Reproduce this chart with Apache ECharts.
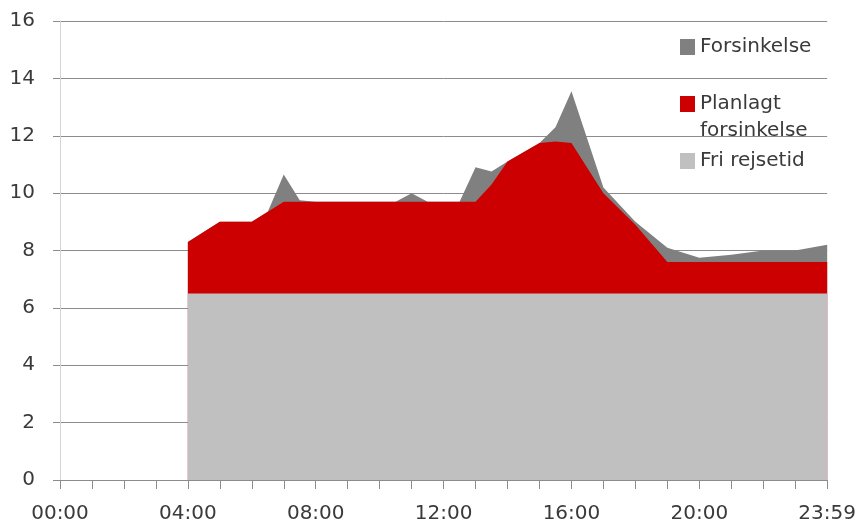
<!DOCTYPE html>
<html>
<head>
<meta charset="utf-8">
<script src="https://cdn.jsdelivr.net/npm/echarts@6/dist/echarts.min.js"></script>
<style>html,body{margin:0;padding:0;background:#fff}#c{width:859px;height:525px}</style>
</head>
<body>
<div id="c"></div>
<script>
// Hours of day (x values)
const hours = [4, 5, 6, 6.5, 7, 7.5, 8, 9, 10, 10.5, 11, 11.5, 12, 12.5, 13, 13.5, 14, 15, 15.5, 16, 17, 18, 19, 20, 21, 22, 23, 24];
// Fri rejsetid (free travel time, bottom band)
const friRejsetid = [6.5, 6.5, 6.5, 6.5, 6.5, 6.5, 6.5, 6.5, 6.5, 6.5, 6.5, 6.5, 6.5, 6.5, 6.5, 6.5, 6.5, 6.5, 6.5, 6.5, 6.5, 6.5, 6.5, 6.5, 6.5, 6.5, 6.5, 6.5];
// Top of "Planlagt forsinkelse" band (free time + planned delay)
const planlagtTop = [8.3, 9.0, 9.0, 9.35, 9.7, 9.7, 9.7, 9.7, 9.7, 9.7, 9.7, 9.7, 9.7, 9.7, 9.7, 10.3, 11.1, 11.75, 11.8, 11.75, 10.0, 8.9, 7.6, 7.6, 7.6, 7.6, 7.6, 7.6];
// Top of "Forsinkelse" band (total travel time)
const forsinkelseTop = [8.3, 9.0, 9.0, 9.35, 10.65, 9.75, 9.7, 9.7, 9.7, 9.7, 10.0, 9.7, 9.7, 9.7, 10.9, 10.75, 11.1, 11.75, 12.3, 13.55, 10.2, 9.0, 8.1, 7.75, 7.85, 8.0, 8.0, 8.2];
// X tick labels (every 4 hours)
const xTickLabels = ['00:00', '04:00', '08:00', '12:00', '16:00', '20:00', '23:59'];

const pairs = arr => hours.map((h, i) => [h, arr[i]]);
const FONT = 'DejaVu Sans';
const TXT = '#3a3a3a';

const chart = echarts.init(document.getElementById('c'), null, {renderer: 'canvas'});
const areaSeries = (name, arr, color, z) => ({
  name, type: 'line', data: pairs(arr), z,
  symbol: 'none', lineStyle: {width: 0}, itemStyle: {color},
  areaStyle: {color, opacity: 1, origin: 'start'}, animation: false
});

chart.setOption({
  animation: false,
  grid: {left: 60, right: 31, top: 21, bottom: 45},
  xAxis: {
    type: 'value', min: 0, max: 24, interval: 4,
    axisLine: {show: true, lineStyle: {color: '#8c8c8c', width: 1}},
    axisTick: {show: true, length: 9, lineStyle: {color: '#8c8c8c'}},
    minorTick: {show: true, splitNumber: 4, length: 9, lineStyle: {color: '#8c8c8c'}},
    splitLine: {show: false},
    axisLabel: {
      margin: 24, fontFamily: FONT, fontSize: 20, color: TXT,
      formatter: v => xTickLabels[Math.round(v / 4)] || ''
    }
  },
  yAxis: {
    type: 'value', min: 0, max: 16, interval: 2,
    axisLine: {show: true, lineStyle: {color: '#d4d4d4'}},
    axisTick: {show: true, length: 7, lineStyle: {color: '#8c8c8c'}},
    splitLine: {show: true, lineStyle: {color: '#8c8c8c', width: 1}},
    axisLabel: {margin: 25, fontFamily: FONT, fontSize: 20, color: TXT}
  },
  legend: [
    {data: ['Forsinkelse'], left: 680, top: 37, padding: 0, icon: 'rect', itemWidth: 15, itemHeight: 16, itemGap: 5,
     textStyle: {fontFamily: FONT, fontSize: 20, color: TXT}},
    {data: ['Planlagt forsinkelse'], left: 680, top: 94, padding: 0, icon: 'rect', itemWidth: 15, itemHeight: 16, itemGap: 5,
     formatter: () => 'Planlagt', textStyle: {fontFamily: FONT, fontSize: 20, color: TXT}},
    {data: ['Fri rejsetid'], left: 680, top: 151, padding: 0, icon: 'rect', itemWidth: 15, itemHeight: 16, itemGap: 5,
     textStyle: {fontFamily: FONT, fontSize: 20, color: TXT}}
  ],
  graphic: [{
    type: 'text', x: 700, y: 131, z: 100, silent: true,
    style: {text: 'forsinkelse', font: '20px "DejaVu Sans"', fill: TXT, verticalAlign: 'middle'}
  }],
  series: [
    areaSeries('Forsinkelse', forsinkelseTop, '#808080', 2),
    areaSeries('Planlagt forsinkelse', planlagtTop, '#cc0000', 3),
    areaSeries('Fri rejsetid', friRejsetid, '#c0c0c0', 4)
  ]
});
</script>
</body>
</html>
